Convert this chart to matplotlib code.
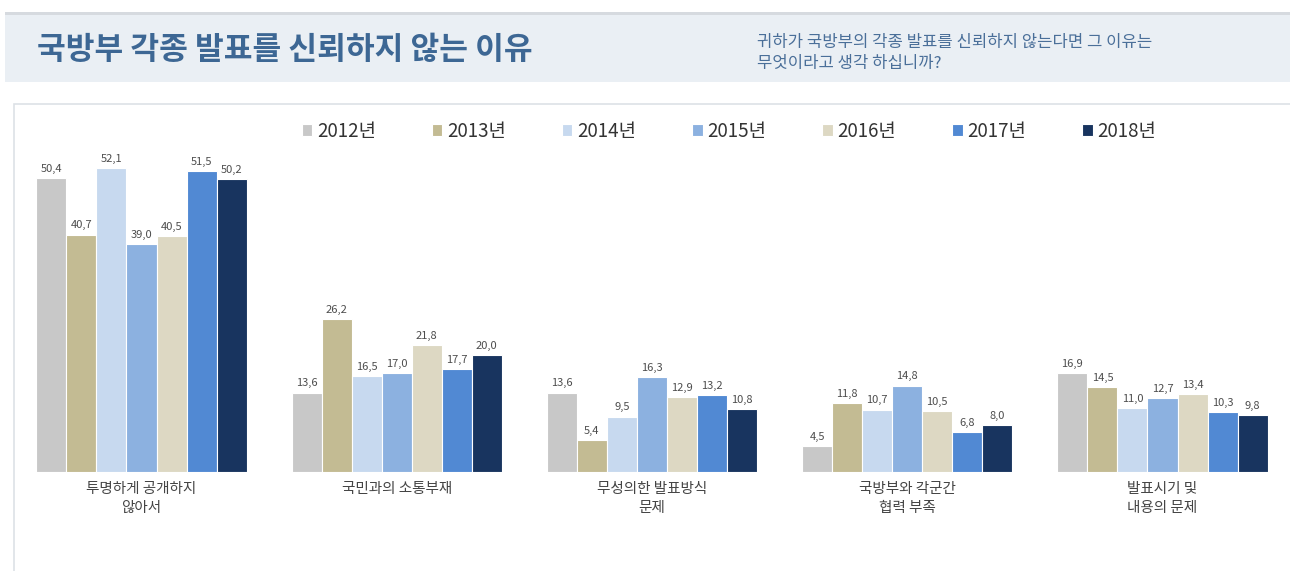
import matplotlib.pyplot as plt
from matplotlib.patches import Rectangle
import numpy as np

plt.rcParams['font.family'] = ['Noto Sans CJK KR', 'DejaVu Sans']

# 데이터
categories = ['투명하게 공개하지\n않아서', '국민과의 소통부재', '무성의한 발표방식\n문제',
              '국방부와 각군간\n협력 부족', '발표시기 및\n내용의 문제']
years = ['2012년', '2013년', '2014년', '2015년', '2016년', '2017년', '2018년']
v2012 = [50.4, 13.6, 13.6, 4.5, 16.9]
v2013 = [40.7, 26.2, 5.4, 11.8, 14.5]
v2014 = [52.1, 16.5, 9.5, 10.7, 11.0]
v2015 = [39.0, 17.0, 16.3, 14.8, 12.7]
v2016 = [40.5, 21.8, 12.9, 10.5, 13.4]
v2017 = [51.5, 17.7, 13.2, 6.8, 10.3]
v2018 = [50.2, 20.0, 10.8, 8.0, 9.8]
series = [v2012, v2013, v2014, v2015, v2016, v2017, v2018]
colors = ['#c8c8c8', '#c3bb93', '#c7d9ef', '#8cb1e0', '#ddd8c3', '#5189d3', '#18345f']

W, H = 1290, 571
fig = plt.figure(figsize=(W / 100, H / 100), dpi=100)

# 헤더 배경
fig.add_artist(Rectangle((5 / W, 1 - 82 / H), 1, 67 / H, transform=fig.transFigure,
                         facecolor='#eaeff4', edgecolor='none', zorder=0))
fig.add_artist(Rectangle((5 / W, 1 - 15 / H), 1, 3 / H, transform=fig.transFigure,
                         facecolor='#d6dadf', edgecolor='none', zorder=0))
# 차트 패널
fig.add_artist(Rectangle((14 / W, -0.01), 1, (H - 104) / H + 0.01, transform=fig.transFigure,
                         facecolor='white', edgecolor='#dde1e6', linewidth=1.2, zorder=0))

fig.text(37 / W, 1 - 50 / H, '국방부 각종 발표를 신뢰하지 않는 이유', fontsize=22.5,
         fontweight='bold', color='#3d6794', va='center', ha='left')
fig.text(757 / W, 1 - 53 / H, '귀하가 국방부의 각종 발표를 신뢰하지 않는다면 그 이유는\n무엇이라고 생각 하십니까?',
         fontsize=12, color='#4a6f99', va='center', ha='left', linespacing=1.3)

ax = fig.add_axes([14 / W, 99 / H, (1287 - 14) / W, (467 - 99) / H])
ax.set_facecolor('none')

x = np.arange(len(categories))
bw = 1 / 8.5
for i, (vals, yr, c) in enumerate(zip(series, years, colors)):
    pos = x + (i - 3) * bw
    bars = ax.bar(pos, vals, bw, color=c, edgecolor='white', linewidth=0.8, label=yr)
    for b, v in zip(bars, vals):
        ax.annotate(f'{v:.1f}'.replace('.', ','), (b.get_x() + b.get_width() / 2, v),
                    xytext=(0, 3), textcoords='offset points', ha='center', va='bottom',
                    fontsize=8, color='#4d4d4d')

ax.set_xlim((14 - 141.5) / 255.25, (1287 - 141.5) / 255.25)
ax.set_ylim(0, 368 / 5.835)
ax.set_xticks(x)
ax.set_xticklabels(categories, fontsize=10.5, color='#444444', linespacing=1.5)
ax.tick_params(axis='x', length=0, pad=7)
ax.set_yticks([])
for s in ax.spines.values():
    s.set_visible(False)

fig.legend(loc='center left', bbox_to_anchor=(302 / W, 1 - 131 / H), ncol=7, frameon=False,
           fontsize=13.5, handlelength=0.55, handleheight=0.55, handletextpad=0.25,
           columnspacing=3.0, borderpad=0, borderaxespad=0, labelcolor='#333333')

fig.savefig('out.png', dpi=100)
